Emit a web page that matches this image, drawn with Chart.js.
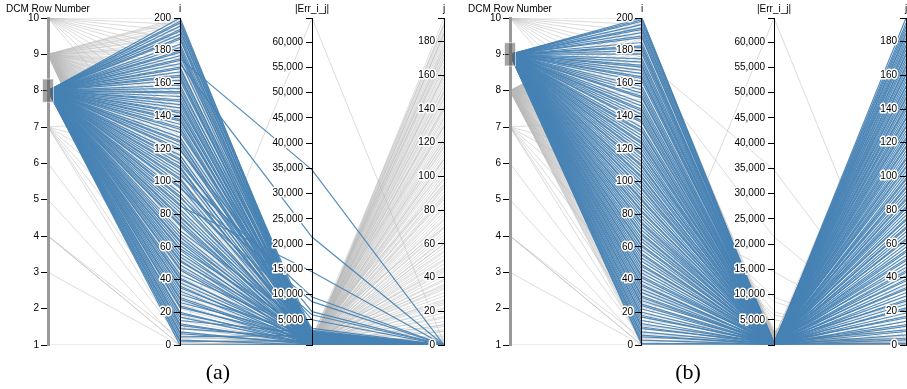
<!DOCTYPE html>
<html>
<head>
<meta charset="utf-8">
<title>DCM parallel coordinates</title>
<script src="https://cdn.jsdelivr.net/npm/chart.js@4.4.1/dist/chart.umd.min.js"></script>
<style>
  body { margin: 0; background: #fff; }
  #wrap { position: relative; width: 907px; height: 389px; }
  .caption { position: absolute; top: 361px; width: 60px; text-align: center;
             font: 22px "Liberation Serif", "DejaVu Serif", serif; line-height: 1; color: #000; }
</style>
</head>
<body>
<div id="wrap">
  <canvas id="pc" width="907" height="389"></canvas>
  <div class="caption" style="left:188px">(a)</div>
  <div class="caption" style="left:658px">(b)</div>
</div>
<script>
// axes of the parallel coordinates plot
const axisTitles = ['DCM Row Number', 'i', '|Err_i_j|', 'j'];
const axisMin = [1, 0, 0, 0];
const axisMax = [10, 200, 64800, 194];
const axisStep = [1, 20, 5000, 20];

// brushed range on the DCM Row Number axis in each panel
const brushA = [7.68, 8.32];
const brushB = [8.68, 9.32];

// entries of DCM row 8
const row8I = [0, 2, 3, 5, 7, 8, 10, 12, 13, 15, 17, 19, 20, 23, 24, 26, 28, 29, 31, 33,
  35, 36, 38, 40, 41, 43, 46, 47, 49, 51, 52, 54, 56, 58, 59, 61, 63, 64, 66, 68,
  70, 73, 74, 76, 78, 79, 81, 83, 85, 86, 88, 90, 91, 93, 96, 97, 99, 101, 102, 104,
  106, 108, 109, 111, 113, 114, 116, 119, 120, 122, 124, 125, 127, 130, 132, 133, 135, 137, 138, 140,
  142, 143, 145, 147, 149, 150, 152, 154, 155, 157, 159, 162, 164, 165, 167, 169, 170, 172, 174, 175,
  177, 179, 180, 182, 184, 187, 188, 190, 192, 193, 195, 197, 198, 200];
const row8Err = [120, 850, 40, 1900, 300, 60, 1400, 520, 90, 2300,
  180, 700, 30, 1100, 260, 1650, 75, 430, 2050, 150,
  980, 20, 610, 1300, 210, 2500, 55, 820, 370, 1750,
  110, 540, 1200, 35, 2200, 690, 140, 1500, 400, 950,
  2900, 80, 1100, 310, 1850, 45, 760, 1350, 14500, 1300,
  580, 6000, 160, 2400, 8600, 65, 1700, 880, 240, 9500,
  30, 1250, 650, 5000, 1900, 420, 1450, 6600, 2100, 560,
  1050, 280, 1800, 3300, 350, 1150, 70, 2600, 720, 130,
  1550, 900, 490, 1950, 25, 900, 1380, 1200, 600, 2250,
  170, 1700, 400, 380, 1080, 2050, 50, 21400, 800, 34700,
  1500, 260, 2350, 640, 1250, 110, 1900, 450, 2700, 85,
  1050, 330, 1600, 700];
const row8J = [0, 0, 0, 0, 0, 0, 0, 0, 0, 0, 0, 0, 0, 0, 0, 0, 0, 0, 0, 0,
  0, 0, 0, 0, 0, 0, 0, 0, 0, 0, 0, 0, 0, 0, 0, 0, 0, 0, 0, 0,
  0, 0, 0, 0, 0, 0, 0, 0, 0, 0, 0, 0, 0, 0, 0, 0, 0, 0, 0, 0,
  0, 0, 0, 0, 0, 0, 0, 0, 0, 0, 0, 0, 0, 0, 0, 0, 0, 0, 0, 0,
  0, 0, 0, 0, 0, 0, 0, 0, 0, 0, 0, 0, 0, 0, 0, 0, 0, 0, 0, 0,
  0, 0, 0, 0, 0, 0, 0, 0, 0, 0, 0, 0, 0, 0];

// entries of DCM row 9
const row9I = [0, 1, 3, 5, 6, 8, 10, 11, 13, 15, 17, 18, 20, 22, 24, 25, 27, 29, 30, 32,
  34, 36, 37, 39, 41, 42, 44, 46, 48, 49, 51, 53, 55, 56, 58, 60, 61, 63, 65, 67,
  68, 70, 72, 74, 75, 77, 79, 81, 82, 84, 86, 88, 89, 91, 93, 95, 96, 98, 100, 102,
  103, 105, 107, 109, 110, 112, 114, 116, 117, 119, 121, 123, 124, 126, 128, 130, 131, 133, 136, 137,
  139, 141, 143, 144, 146, 148, 151, 152, 154, 156, 158, 161, 163, 164, 166, 168, 170, 171, 173, 175,
  178, 180, 182, 183, 185, 188, 189, 191, 193, 194, 196, 198, 199, 200];
const row9Err = [40, 210, 95, 380, 15, 150, 520, 60, 260, 30,
  440, 120, 75, 310, 5, 190, 560, 85, 240, 45,
  350, 130, 20, 470, 100, 280, 65, 170, 590, 35,
  220, 410, 110, 10, 330, 55, 160, 490, 90, 250,
  25, 370, 140, 70, 540, 200, 50, 300, 115, 430,
  15, 180, 80, 270, 600, 40, 145, 390, 60, 230,
  20, 500, 105, 320, 50, 175, 450, 85, 260, 30,
  360, 125, 10, 480, 95, 215, 70, 340, 155, 25,
  570, 110, 290, 45, 195, 420, 65, 135, 305, 15,
  240, 510, 80, 165, 35, 395, 120, 60, 285, 455,
  20, 185, 100, 345, 50, 530, 140, 75, 225, 30,
  405, 90, 160, 10];
const row9J = [0, 1, 3, 4, 6, 8, 9, 11, 12, 14, 16, 17, 19, 21, 22, 24, 26, 27, 29, 31,
  33, 34, 36, 38, 39, 41, 43, 44, 46, 48, 50, 51, 53, 55, 56, 58, 60, 62, 63, 65,
  67, 69, 70, 72, 74, 75, 77, 79, 81, 82, 84, 86, 87, 89, 91, 93, 94, 96, 98, 99,
  101, 103, 105, 106, 108, 110, 111, 113, 115, 117, 118, 120, 122, 123, 125, 127, 129, 130, 132, 134,
  135, 137, 139, 141, 142, 144, 146, 147, 149, 151, 153, 154, 156, 158, 160, 161, 163, 165, 166, 168,
  170, 172, 173, 175, 177, 178, 180, 182, 184, 185, 187, 189, 191, 194];

// entries of the remaining rows
const otherRow = [10, 10, 10, 10, 10, 10, 10, 10, 10, 10, 10, 10, 7, 7, 7, 7, 7, 7, 7, 7, 6, 5, 4, 4, 4, 3, 1];
const otherI = [200, 196, 192, 187, 181, 176, 169, 161, 152, 140, 125, 105, 3, 12, 28, 45, 66, 88, 112, 138, 4, 1, 0, 0, 4, 0, 0];
const otherErr = [300, 900, 150, 1800, 60, 1200, 450, 2500, 80, 700, 1500, 250, 500, 1100, 200, 2400, 90, 800, 1600, 350, 1300, 2000, 400, 900, 64800, 700, 1500];
const otherJ = [12, 45, 88, 130, 160, 190, 25, 70, 110, 150, 175, 5, 8, 35, 60, 95, 120, 140, 170, 185, 3, 1, 0, 2, 1, 1, 0];

const records = [];
row8I.forEach((v, k) => records.push([8, v, row8Err[k], row8J[k]]));
row9I.forEach((v, k) => records.push([9, v, row9Err[k], row9J[k]]));
otherRow.forEach((r, k) => records.push([r, otherI[k], otherErr[k], otherJ[k]]));

const FONT = '"Liberation Sans", Arial, sans-serif';
const STEEL = 'rgba(70, 130, 180, 0.92)';
const GREY = 'rgba(185, 185, 185, 0.5)';
const panels = [{offset: 0, brush: brushA}, {offset: 3.5, brush: brushB}];

function norm(d, v) {
  return (v - axisMin[d]) / (axisMax[d] - axisMin[d]);
}

function tickLabel(d, v) {
  if ((v - axisMin[d]) % axisStep[d] !== 0 || (d === 2 && v === 0)) return '';
  return v.toLocaleString('en-US');
}

const datasets = [];
panels.forEach(p => {
  records.forEach(rec => {
    const on = rec[0] >= p.brush[0] && rec[0] <= p.brush[1];
    datasets.push({
      data: rec.map((v, d) => ({x: p.offset + d, y: norm(d, v)})),
      borderColor: on ? STEEL : GREY,
      borderWidth: on ? 1.2 : 1,
      order: on ? 0 : 1,
      pointRadius: 0,
      tension: 0,
      fill: false,
      xAxisID: 'x',
      yAxisID: 'yn'
    });
  });
});

const scales = {
  x: {type: 'linear', min: -48 / 132, max: 6.5 + 1 / 132, display: false},
  yn: {type: 'linear', min: 0, max: 1, display: false}
};
panels.forEach((p, pi) => {
  axisTitles.forEach((t, d) => {
    const step = axisStep[d];
    scales['y' + pi + d] = {
      type: 'linear',
      axis: 'y',
      position: {x: p.offset + d},
      min: axisMin[d],
      max: axisMax[d],
      bounds: 'data',
      grid: {drawOnChartArea: false, drawTicks: true, tickLength: 6, color: '#000', lineWidth: 1, z: 1},
      border: {display: true, color: d === 0 ? '#999' : '#000', width: d === 0 ? 3 : 1, z: 1},
      // labels are painted by the overlay plugin so they sit left of the tick marks
      ticks: {display: false, callback: v => tickLabel(d, v)},
      // ticks on every step, plus an unlabelled cap at the top of the axis
      afterBuildTicks: s => {
        const tk = [];
        for (let v = Math.ceil(s.min / step) * step; v <= s.max; v += step) tk.push({value: v});
        if (tk[tk.length - 1].value !== s.max) tk.push({value: s.max});
        s.ticks = tk;
      }
    };
  });
});

// tick labels, axis titles and the brush boxes on the row axis
const overlay = {
  id: 'overlay',
  afterDraw(chart) {
    const ctx = chart.ctx;
    const xs = chart.scales.x;
    ctx.save();
    ctx.font = '10px ' + FONT;
    ctx.textBaseline = 'middle';
    ctx.lineJoin = 'round';
    panels.forEach((p, pi) => {
      const rowScale = chart.scales['y' + pi + '0'];
      const bx = xs.getPixelForValue(p.offset);
      const y1 = rowScale.getPixelForValue(p.brush[1]);
      const y0 = rowScale.getPixelForValue(p.brush[0]);
      ctx.fillStyle = 'rgba(90, 90, 90, 0.55)';
      ctx.fillRect(bx - 5.5, y1, 11, y0 - y1);
      ctx.strokeStyle = 'rgba(255, 255, 255, 0.6)';
      ctx.lineWidth = 1;
      ctx.strokeRect(bx - 5.5, y1, 11, y0 - y1);

      axisTitles.forEach((t, d) => {
        const sc = chart.scales['y' + pi + d];
        const ax = xs.getPixelForValue(p.offset + d);
        ctx.textAlign = 'right';
        sc.ticks.forEach(tk => {
          const txt = tickLabel(d, tk.value);
          if (!txt) return;
          const ty = sc.getPixelForValue(tk.value);
          ctx.strokeStyle = '#fff';
          ctx.lineWidth = 3;
          ctx.strokeText(txt, ax - 9, ty);
          ctx.fillStyle = '#000';
          ctx.fillText(txt, ax - 9, ty);
        });
        ctx.textAlign = 'center';
        ctx.fillStyle = '#000';
        ctx.fillText(t, ax, 9);
      });
    });
    ctx.restore();
  }
};

new Chart(document.getElementById('pc'), {
  type: 'line',
  data: {datasets},
  options: {
    responsive: false,
    animation: false,
    events: [],
    normalized: true,
    layout: {padding: {top: 18, bottom: 44, left: 0, right: 0}},
    plugins: {legend: {display: false}, tooltip: {enabled: false}},
    scales
  },
  plugins: [overlay]
});
</script>
</body>
</html>
